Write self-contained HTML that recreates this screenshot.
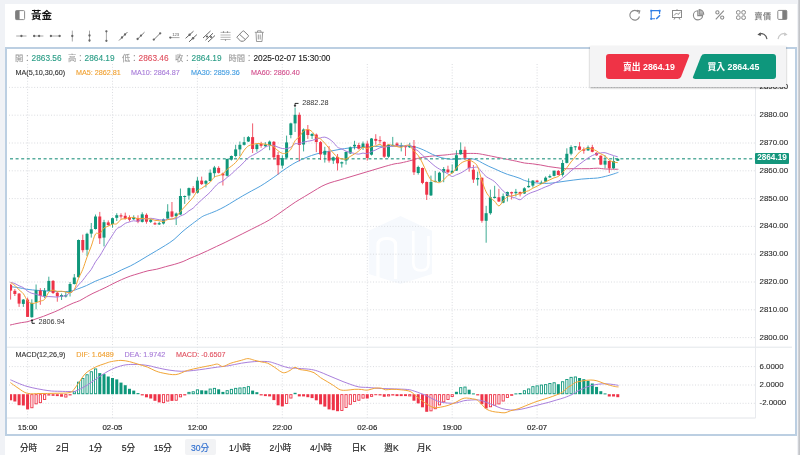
<!DOCTYPE html>
<html lang="zh-Hant">
<head>
<meta charset="utf-8">
<title>黃金</title>
<style>
html,body{margin:0;padding:0;}
body{width:800px;height:455px;overflow:hidden;position:relative;background:#f0f2f6;font-family:"Liberation Sans","Noto Sans CJK TC",sans-serif;color:#333;}
.panel{position:absolute;left:5px;top:4px;width:792px;height:451px;background:#fff;}
.edge{position:absolute;left:798px;top:0;width:2px;height:455px;background:linear-gradient(to right,#d6d8dc,#bcbec2);}
.title{position:absolute;left:31px;top:8.3px;font-size:10.6px;font-weight:bold;color:#111;line-height:14px;font-family:"Liberation Sans","Noto Sans CJK TC",sans-serif;}
.price-type{position:absolute;left:754.3px;top:9.8px;font-size:8.4px;line-height:12px;color:#6a6a6a;}
.chartbox{position:absolute;left:5px;top:47px;width:788px;height:385px;border:2px solid #bccfe2;}
svg.main{position:absolute;left:0;top:0;}
.g{stroke:#d6d8dd;stroke-width:0.9;stroke-dasharray:1,1.8;}
.info{position:absolute;font-size:8.3px;line-height:10px;white-space:nowrap;-webkit-text-stroke:0.12px currentColor;}
.sm{font-size:7.2px;}
.lbl{color:#999;}
.up{color:#2a9d86;}
.dn{color:#e0505f;}
.yl{position:absolute;left:759.5px;font-size:7.9px;line-height:10px;color:#2a2a2a;-webkit-text-stroke:0.1px #2a2a2a;}
.xl{position:absolute;top:423px;width:40px;text-align:center;font-size:7.8px;line-height:10px;color:#222;-webkit-text-stroke:0.15px #222;}
.mk{position:absolute;font-size:7.3px;line-height:10px;color:#333;}
.popup{position:absolute;left:590px;top:46px;width:196px;height:41px;background:#f4f4f5;box-shadow:0 1px 2px rgba(0,0,0,0.35);}
.btn{position:absolute;top:54px;height:25px;color:#fff;font-size:8.8px;font-weight:bold;line-height:27px;white-space:nowrap;}
.sell{left:606px;width:84px;}
.buy{left:692px;width:84px;}
.btn svg{position:absolute;left:0;top:0;}
.btn span{position:relative;}
.cur{position:absolute;left:755px;top:153px;width:34px;height:10.6px;background:#14967c;color:#fff;font-size:8.2px;font-weight:bold;line-height:10.6px;text-align:center;border-radius:1px;}
.tabsel{position:absolute;left:184.5px;top:438.5px;width:31.5px;height:16.5px;background:#f2f3f5;border-radius:2px;}
.tab{position:absolute;top:442.5px;font-size:8.6px;line-height:11px;color:#222;-webkit-text-stroke:0.15px currentColor;white-space:nowrap;font-family:"Liberation Sans","Noto Sans CJK TC",sans-serif;}
.tab.sel{color:#2f6fd0;}
</style>
</head>
<body>
<div class="panel"></div>
<div class="edge"></div>
<div class="chartbox"></div>
<svg class="main" width="800" height="455" viewBox="0 0 800 455">
<g><polygon points="400.5,215.9 432,230.7 432,274 400.5,284 368.8,274 368.8,230.7" fill="#f6f9fd"/><path d="M378,279 L378,245 Q378,238.5 386.8,238.5 Q395.6,238.5 395.6,245 L395.6,279" fill="none" stroke="#fff" stroke-width="3.2"/><path d="M413.3,231 L413.3,263 Q413.3,270.5 421,270.5 Q428.5,270.5 428.5,263 L428.5,236" fill="none" stroke="#fff" stroke-width="2.6"/></g>
<line x1="9" y1="87.4" x2="755" y2="87.4" class="g"/>
<line x1="9" y1="115.2" x2="755" y2="115.2" class="g"/>
<line x1="9" y1="143.0" x2="755" y2="143.0" class="g"/>
<line x1="9" y1="170.8" x2="755" y2="170.8" class="g"/>
<line x1="9" y1="198.6" x2="755" y2="198.6" class="g"/>
<line x1="9" y1="226.4" x2="755" y2="226.4" class="g"/>
<line x1="9" y1="254.2" x2="755" y2="254.2" class="g"/>
<line x1="9" y1="282.0" x2="755" y2="282.0" class="g"/>
<line x1="9" y1="309.8" x2="755" y2="309.8" class="g"/>
<line x1="9" y1="337.6" x2="755" y2="337.6" class="g"/>
<line x1="9" y1="366.6" x2="755" y2="366.6" class="g"/>
<line x1="9" y1="385.0" x2="755" y2="385.0" class="g"/>
<line x1="9" y1="403.3" x2="755" y2="403.3" class="g"/>
<line x1="27.6" y1="64" x2="27.6" y2="346" class="g"/>
<line x1="27.6" y1="347" x2="27.6" y2="418" class="g"/>
<line x1="112.5" y1="64" x2="112.5" y2="346" class="g"/>
<line x1="112.5" y1="347" x2="112.5" y2="418" class="g"/>
<line x1="197.4" y1="64" x2="197.4" y2="346" class="g"/>
<line x1="197.4" y1="347" x2="197.4" y2="418" class="g"/>
<line x1="282.3" y1="64" x2="282.3" y2="346" class="g"/>
<line x1="282.3" y1="347" x2="282.3" y2="418" class="g"/>
<line x1="367.3" y1="64" x2="367.3" y2="346" class="g"/>
<line x1="367.3" y1="347" x2="367.3" y2="418" class="g"/>
<line x1="452.2" y1="64" x2="452.2" y2="346" class="g"/>
<line x1="452.2" y1="347" x2="452.2" y2="418" class="g"/>
<line x1="537.1" y1="64" x2="537.1" y2="346" class="g"/>
<line x1="537.1" y1="347" x2="537.1" y2="418" class="g"/>
<line x1="7" y1="347.2" x2="792" y2="347.2" stroke="#e3e6ea" stroke-width="1"/>
<line x1="7" y1="418" x2="755.5" y2="418" stroke="#e2e4e8" stroke-width="1"/>
<line x1="755.5" y1="48" x2="755.5" y2="418" stroke="#e8eaee" stroke-width="1"/>
<defs><clipPath id="pc"><rect x="10.1" y="48" width="745" height="370"/></clipPath></defs><g clip-path="url(#pc)">
<path d="M9.90,325.10 C10.92,324.87 14.07,324.12 16.00,323.70 C17.93,323.28 19.67,322.92 21.50,322.60 C23.33,322.28 25.17,322.22 27.00,321.80 C28.83,321.38 30.67,320.70 32.50,320.10 C34.33,319.50 36.17,318.83 38.00,318.20 C39.83,317.57 41.67,316.98 43.50,316.30 C45.33,315.62 47.17,314.83 49.00,314.10 C50.83,313.37 52.67,312.68 54.50,311.90 C56.33,311.12 57.98,310.37 60.00,309.40 C62.02,308.43 64.40,307.15 66.60,306.10 C68.80,305.05 71.00,304.02 73.20,303.10 C75.40,302.18 77.60,301.65 79.80,300.60 C82.00,299.55 84.20,298.02 86.40,296.80 C88.60,295.58 90.80,294.38 93.00,293.30 C95.20,292.22 97.40,291.32 99.60,290.30 C101.80,289.28 104.00,288.28 106.20,287.20 C108.40,286.12 110.23,285.07 112.80,283.80 C115.37,282.53 118.68,280.88 121.60,279.60 C124.52,278.32 127.38,277.13 130.30,276.10 C133.22,275.07 136.17,274.28 139.10,273.40 C142.03,272.52 144.97,271.50 147.90,270.80 C150.83,270.10 153.77,269.88 156.70,269.20 C159.63,268.52 162.57,267.50 165.50,266.70 C168.43,265.90 171.37,265.27 174.30,264.40 C177.23,263.53 180.48,262.52 183.10,261.50 C185.72,260.48 187.38,259.43 190.00,258.30 C192.62,257.17 195.87,255.97 198.80,254.70 C201.73,253.43 204.67,252.07 207.60,250.70 C210.53,249.33 213.47,247.88 216.40,246.50 C219.33,245.12 222.27,243.82 225.20,242.40 C228.13,240.98 231.07,239.47 234.00,238.00 C236.93,236.53 239.87,235.07 242.80,233.60 C245.73,232.13 248.68,230.67 251.60,229.20 C254.52,227.73 257.38,226.32 260.30,224.80 C263.22,223.28 266.17,221.85 269.10,220.10 C272.03,218.35 274.97,216.30 277.90,214.30 C280.83,212.30 283.77,210.15 286.70,208.10 C289.63,206.05 292.57,203.90 295.50,202.00 C298.43,200.10 301.37,198.47 304.30,196.70 C307.23,194.93 310.17,193.15 313.10,191.40 C316.03,189.65 319.08,187.63 321.90,186.20 C324.72,184.77 327.15,183.80 330.00,182.80 C332.85,181.80 335.67,181.18 339.00,180.20 C342.33,179.22 346.33,178.00 350.00,176.90 C353.67,175.80 357.33,174.70 361.00,173.60 C364.67,172.50 368.33,171.40 372.00,170.30 C375.67,169.20 379.33,168.05 383.00,167.00 C386.67,165.95 391.00,164.68 394.00,164.00 C397.00,163.32 398.00,163.53 401.00,162.90 C404.00,162.27 408.83,161.05 412.00,160.20 C415.17,159.35 416.58,158.50 420.00,157.80 C423.42,157.10 428.33,156.47 432.50,156.00 C436.67,155.53 441.45,155.33 445.00,155.00 C448.55,154.67 450.67,154.25 453.80,154.00 C456.93,153.75 460.05,153.58 463.80,153.50 C467.55,153.42 473.18,153.35 476.30,153.50 C479.42,153.65 480.42,154.05 482.50,154.40 C484.58,154.75 486.72,155.18 488.80,155.60 C490.88,156.02 491.88,156.27 495.00,156.90 C498.12,157.53 503.95,158.68 507.50,159.40 C511.05,160.12 513.48,160.60 516.30,161.20 C519.12,161.80 521.70,162.57 524.40,163.00 C527.10,163.43 529.78,163.47 532.50,163.80 C535.22,164.13 537.98,164.53 540.70,165.00 C543.42,165.47 546.10,166.15 548.80,166.60 C551.50,167.05 554.20,167.35 556.90,167.70 C559.60,168.05 562.28,168.53 565.00,168.70 C567.72,168.87 570.48,168.70 573.20,168.70 C575.92,168.70 578.60,168.70 581.30,168.70 C584.00,168.70 586.68,168.78 589.40,168.70 C592.12,168.62 594.88,168.15 597.60,168.20 C600.32,168.25 602.23,168.82 605.70,169.00 C609.17,169.18 616.28,169.25 618.40,169.30" fill="none" stroke="#d2578f" stroke-width="1"/>
<path d="M10.50,286.70 C11.78,286.85 15.45,287.17 18.20,287.60 C20.95,288.03 23.70,288.83 27.00,289.30 C30.30,289.77 34.33,290.10 38.00,290.40 C41.67,290.70 45.33,290.92 49.00,291.10 C52.67,291.28 56.40,291.48 60.00,291.50 C63.60,291.52 67.67,291.62 70.60,291.20 C73.53,290.78 74.97,289.93 77.60,289.00 C80.23,288.07 83.47,286.88 86.40,285.60 C89.33,284.32 92.27,282.60 95.20,281.30 C98.13,280.00 101.07,278.97 104.00,277.80 C106.93,276.63 109.87,275.62 112.80,274.30 C115.73,272.98 118.68,271.28 121.60,269.90 C124.52,268.52 127.38,267.47 130.30,266.00 C133.22,264.53 136.17,262.80 139.10,261.10 C142.03,259.40 144.97,257.55 147.90,255.80 C150.83,254.05 153.77,252.35 156.70,250.60 C159.63,248.85 162.62,247.15 165.50,245.30 C168.38,243.45 171.25,241.72 174.00,239.50 C176.75,237.28 179.33,234.32 182.00,232.00 C184.67,229.68 187.20,227.77 190.00,225.60 C192.80,223.43 196.60,220.58 198.80,219.00 C201.00,217.42 201.73,216.88 203.20,216.10 C204.67,215.32 205.40,215.18 207.60,214.30 C209.80,213.42 213.47,212.12 216.40,210.80 C219.33,209.48 222.27,208.02 225.20,206.40 C228.13,204.78 231.07,202.87 234.00,201.10 C236.93,199.33 239.87,197.50 242.80,195.80 C245.73,194.10 248.68,192.50 251.60,190.90 C254.52,189.30 257.38,187.93 260.30,186.20 C263.22,184.47 266.32,182.37 269.10,180.50 C271.88,178.63 274.52,176.78 277.00,175.00 C279.48,173.22 281.00,171.83 284.00,169.80 C287.00,167.77 291.33,164.83 295.00,162.80 C298.67,160.77 302.33,159.10 306.00,157.60 C309.67,156.10 313.33,154.80 317.00,153.80 C320.67,152.80 324.33,152.32 328.00,151.60 C331.67,150.88 335.33,150.12 339.00,149.50 C342.67,148.88 346.33,148.27 350.00,147.90 C353.67,147.53 357.33,147.52 361.00,147.30 C364.67,147.08 368.33,146.78 372.00,146.60 C375.67,146.42 378.17,146.32 383.00,146.20 C387.83,146.08 396.17,145.87 401.00,145.90 C405.83,145.93 408.83,145.97 412.00,146.40 C415.17,146.83 417.62,147.68 420.00,148.50 C422.38,149.32 424.22,150.32 426.30,151.30 C428.38,152.28 430.42,153.47 432.50,154.40 C434.58,155.33 436.72,156.22 438.80,156.90 C440.88,157.58 442.92,158.10 445.00,158.50 C447.08,158.90 449.22,159.17 451.30,159.30 C453.38,159.43 455.42,159.42 457.50,159.30 C459.58,159.18 461.72,158.72 463.80,158.60 C465.88,158.48 467.92,158.40 470.00,158.60 C472.08,158.80 474.22,159.05 476.30,159.80 C478.38,160.55 480.42,162.02 482.50,163.10 C484.58,164.18 486.72,165.32 488.80,166.30 C490.88,167.28 492.92,168.07 495.00,169.00 C497.08,169.93 499.22,171.00 501.30,171.90 C503.38,172.80 505.42,173.67 507.50,174.40 C509.58,175.13 511.72,175.63 513.80,176.30 C515.88,176.97 518.23,177.72 520.00,178.40 C521.77,179.08 522.32,179.73 524.40,180.40 C526.48,181.07 529.78,181.92 532.50,182.40 C535.22,182.88 537.98,183.15 540.70,183.30 C543.42,183.45 546.10,183.45 548.80,183.30 C551.50,183.15 554.20,182.75 556.90,182.40 C559.60,182.05 562.28,181.58 565.00,181.20 C567.72,180.82 570.48,180.45 573.20,180.10 C575.92,179.75 578.60,179.37 581.30,179.10 C584.00,178.83 586.68,178.68 589.40,178.50 C592.12,178.32 594.88,178.37 597.60,178.00 C600.32,177.63 603.00,176.98 605.70,176.30 C608.40,175.62 611.68,174.57 613.80,173.90 C615.92,173.23 617.63,172.57 618.40,172.30" fill="none" stroke="#52a2de" stroke-width="1"/>
<line x1="10" y1="158.8" x2="755" y2="158.8" stroke="#5aae9f" stroke-width="1.4" stroke-dasharray="3,2.6"/>
<rect x="10.10" y="283.90" width="1" height="15.70" fill="#ee3348" fill-opacity="0.8"/>
<rect x="9.10" y="284.80" width="3" height="5.80" fill="#ee3348"/>
<rect x="14.35" y="289.00" width="1" height="7.00" fill="#ee3348" fill-opacity="0.8"/>
<rect x="13.35" y="290.80" width="3" height="3.20" fill="#ee3348"/>
<rect x="18.59" y="293.00" width="1" height="13.90" fill="#ee3348" fill-opacity="0.8"/>
<rect x="17.59" y="293.60" width="3" height="10.00" fill="#ee3348"/>
<rect x="22.84" y="299.00" width="1" height="7.90" fill="#0f977b" fill-opacity="0.8"/>
<rect x="21.84" y="299.60" width="3" height="4.30" fill="#0f977b"/>
<rect x="27.08" y="297.60" width="1" height="19.40" fill="#ee3348" fill-opacity="0.8"/>
<rect x="26.08" y="299.60" width="3" height="17.30" fill="#ee3348"/>
<rect x="31.33" y="299.30" width="1" height="18.50" fill="#0f977b" fill-opacity="0.8"/>
<rect x="30.33" y="302.90" width="3" height="14.30" fill="#0f977b"/>
<rect x="35.58" y="284.50" width="1" height="24.80" fill="#0f977b" fill-opacity="0.8"/>
<rect x="34.58" y="290.30" width="3" height="11.70" fill="#0f977b"/>
<rect x="39.82" y="288.10" width="1" height="16.70" fill="#ee3348" fill-opacity="0.8"/>
<rect x="38.82" y="290.60" width="3" height="5.40" fill="#ee3348"/>
<rect x="44.07" y="288.00" width="1" height="10.00" fill="#0f977b" fill-opacity="0.8"/>
<rect x="43.07" y="290.80" width="3" height="5.20" fill="#0f977b"/>
<rect x="48.31" y="276.70" width="1" height="14.30" fill="#0f977b" fill-opacity="0.8"/>
<rect x="47.31" y="280.90" width="3" height="9.90" fill="#0f977b"/>
<rect x="52.56" y="280.00" width="1" height="14.00" fill="#ee3348" fill-opacity="0.8"/>
<rect x="51.56" y="280.90" width="3" height="12.10" fill="#ee3348"/>
<rect x="56.81" y="292.00" width="1" height="9.70" fill="#ee3348" fill-opacity="0.8"/>
<rect x="55.81" y="292.70" width="3" height="3.70" fill="#ee3348"/>
<rect x="61.05" y="293.50" width="1" height="6.50" fill="#0f977b" fill-opacity="0.8"/>
<rect x="60.05" y="295.00" width="3" height="1.80" fill="#0f977b"/>
<rect x="65.30" y="291.70" width="1" height="5.80" fill="#0f977b" fill-opacity="0.8"/>
<rect x="64.30" y="295.00" width="3" height="1.50" fill="#0f977b"/>
<rect x="69.54" y="282.00" width="1" height="14.50" fill="#0f977b" fill-opacity="0.8"/>
<rect x="68.54" y="284.00" width="3" height="9.00" fill="#0f977b"/>
<rect x="73.79" y="274.00" width="1" height="10.50" fill="#0f977b" fill-opacity="0.8"/>
<rect x="72.79" y="277.50" width="3" height="6.50" fill="#0f977b"/>
<rect x="78.04" y="239.50" width="1" height="38.00" fill="#0f977b" fill-opacity="0.8"/>
<rect x="77.04" y="240.00" width="3" height="37.20" fill="#0f977b"/>
<rect x="82.28" y="234.60" width="1" height="17.90" fill="#ee3348" fill-opacity="0.8"/>
<rect x="81.28" y="240.00" width="3" height="10.20" fill="#ee3348"/>
<rect x="86.53" y="232.70" width="1" height="23.30" fill="#0f977b" fill-opacity="0.8"/>
<rect x="85.53" y="233.80" width="3" height="16.00" fill="#0f977b"/>
<rect x="90.77" y="223.00" width="1" height="14.60" fill="#0f977b" fill-opacity="0.8"/>
<rect x="89.77" y="229.30" width="3" height="4.30" fill="#0f977b"/>
<rect x="95.02" y="214.50" width="1" height="15.00" fill="#0f977b" fill-opacity="0.8"/>
<rect x="94.02" y="216.50" width="3" height="12.50" fill="#0f977b"/>
<rect x="99.27" y="211.90" width="1" height="32.10" fill="#ee3348" fill-opacity="0.8"/>
<rect x="98.27" y="216.50" width="3" height="21.80" fill="#ee3348"/>
<rect x="103.51" y="219.80" width="1" height="26.60" fill="#0f977b" fill-opacity="0.8"/>
<rect x="102.51" y="222.20" width="3" height="15.40" fill="#0f977b"/>
<rect x="107.76" y="220.40" width="1" height="5.60" fill="#ee3348" fill-opacity="0.8"/>
<rect x="106.76" y="222.40" width="3" height="2.60" fill="#ee3348"/>
<rect x="112.00" y="217.50" width="1" height="10.20" fill="#0f977b" fill-opacity="0.8"/>
<rect x="111.00" y="218.20" width="3" height="5.80" fill="#0f977b"/>
<rect x="116.25" y="213.20" width="1" height="7.80" fill="#0f977b" fill-opacity="0.8"/>
<rect x="115.25" y="215.20" width="3" height="2.60" fill="#0f977b"/>
<rect x="120.50" y="213.30" width="1" height="5.40" fill="#ee3348" fill-opacity="0.8"/>
<rect x="119.50" y="215.30" width="3" height="1.20" fill="#ee3348"/>
<rect x="124.74" y="212.60" width="1" height="6.90" fill="#ee3348" fill-opacity="0.8"/>
<rect x="123.74" y="215.80" width="3" height="2.90" fill="#ee3348"/>
<rect x="128.99" y="215.30" width="1" height="6.20" fill="#ee3348" fill-opacity="0.8"/>
<rect x="127.99" y="217.20" width="3" height="2.50" fill="#ee3348"/>
<rect x="133.23" y="215.30" width="1" height="4.70" fill="#0f977b" fill-opacity="0.8"/>
<rect x="132.23" y="217.20" width="3" height="2.00" fill="#0f977b"/>
<rect x="137.48" y="215.30" width="1" height="7.90" fill="#ee3348" fill-opacity="0.8"/>
<rect x="136.48" y="218.00" width="3" height="3.70" fill="#ee3348"/>
<rect x="141.73" y="212.30" width="1" height="10.20" fill="#0f977b" fill-opacity="0.8"/>
<rect x="140.73" y="214.30" width="3" height="7.60" fill="#0f977b"/>
<rect x="145.97" y="213.30" width="1" height="10.40" fill="#ee3348" fill-opacity="0.8"/>
<rect x="144.97" y="214.80" width="3" height="6.90" fill="#ee3348"/>
<rect x="150.22" y="219.00" width="1" height="4.00" fill="#0f977b" fill-opacity="0.8"/>
<rect x="149.22" y="219.70" width="3" height="2.20" fill="#0f977b"/>
<rect x="154.46" y="221.70" width="1" height="3.30" fill="#ee3348" fill-opacity="0.8"/>
<rect x="153.46" y="223.20" width="3" height="1.20" fill="#ee3348"/>
<rect x="158.71" y="221.70" width="1" height="3.30" fill="#0f977b" fill-opacity="0.8"/>
<rect x="157.71" y="223.20" width="3" height="1.20" fill="#0f977b"/>
<rect x="162.96" y="218.50" width="1" height="6.00" fill="#0f977b" fill-opacity="0.8"/>
<rect x="161.96" y="219.20" width="3" height="4.30" fill="#0f977b"/>
<rect x="167.20" y="204.20" width="1" height="14.80" fill="#0f977b" fill-opacity="0.8"/>
<rect x="166.20" y="211.60" width="3" height="6.90" fill="#0f977b"/>
<rect x="171.45" y="202.00" width="1" height="15.50" fill="#ee3348" fill-opacity="0.8"/>
<rect x="170.45" y="211.40" width="3" height="5.30" fill="#ee3348"/>
<rect x="175.69" y="212.50" width="1" height="12.50" fill="#0f977b" fill-opacity="0.8"/>
<rect x="174.69" y="213.50" width="3" height="2.70" fill="#0f977b"/>
<rect x="179.94" y="188.50" width="1" height="26.50" fill="#0f977b" fill-opacity="0.8"/>
<rect x="178.94" y="196.00" width="3" height="18.50" fill="#0f977b"/>
<rect x="184.19" y="195.50" width="1" height="8.40" fill="#0f977b" fill-opacity="0.8"/>
<rect x="183.19" y="196.00" width="3" height="1.00" fill="#0f977b"/>
<rect x="188.43" y="187.50" width="1" height="12.10" fill="#0f977b" fill-opacity="0.8"/>
<rect x="187.43" y="188.10" width="3" height="7.50" fill="#0f977b"/>
<rect x="192.68" y="186.10" width="1" height="7.40" fill="#ee3348" fill-opacity="0.8"/>
<rect x="191.68" y="188.10" width="3" height="4.60" fill="#ee3348"/>
<rect x="196.92" y="177.10" width="1" height="16.40" fill="#0f977b" fill-opacity="0.8"/>
<rect x="195.92" y="180.60" width="3" height="12.10" fill="#0f977b"/>
<rect x="201.17" y="176.60" width="1" height="8.40" fill="#ee3348" fill-opacity="0.8"/>
<rect x="200.17" y="180.60" width="3" height="3.50" fill="#ee3348"/>
<rect x="205.42" y="180.00" width="1" height="7.40" fill="#0f977b" fill-opacity="0.8"/>
<rect x="204.42" y="180.90" width="3" height="2.80" fill="#0f977b"/>
<rect x="209.66" y="169.40" width="1" height="12.10" fill="#0f977b" fill-opacity="0.8"/>
<rect x="208.66" y="172.70" width="3" height="8.30" fill="#0f977b"/>
<rect x="213.91" y="165.90" width="1" height="11.20" fill="#0f977b" fill-opacity="0.8"/>
<rect x="212.91" y="167.50" width="3" height="5.70" fill="#0f977b"/>
<rect x="218.15" y="166.20" width="1" height="7.30" fill="#ee3348" fill-opacity="0.8"/>
<rect x="217.15" y="167.90" width="3" height="4.90" fill="#ee3348"/>
<rect x="222.40" y="172.50" width="1" height="13.00" fill="#ee3348" fill-opacity="0.8"/>
<rect x="221.40" y="173.50" width="3" height="1.90" fill="#ee3348"/>
<rect x="226.65" y="158.50" width="1" height="18.00" fill="#0f977b" fill-opacity="0.8"/>
<rect x="225.65" y="159.00" width="3" height="16.80" fill="#0f977b"/>
<rect x="230.89" y="155.50" width="1" height="5.10" fill="#0f977b" fill-opacity="0.8"/>
<rect x="229.89" y="156.00" width="3" height="3.60" fill="#0f977b"/>
<rect x="235.14" y="144.80" width="1" height="12.50" fill="#0f977b" fill-opacity="0.8"/>
<rect x="234.14" y="149.40" width="3" height="6.60" fill="#0f977b"/>
<rect x="239.38" y="141.50" width="1" height="14.50" fill="#0f977b" fill-opacity="0.8"/>
<rect x="238.38" y="144.80" width="3" height="4.60" fill="#0f977b"/>
<rect x="243.63" y="136.90" width="1" height="8.60" fill="#0f977b" fill-opacity="0.8"/>
<rect x="242.63" y="142.20" width="3" height="2.60" fill="#0f977b"/>
<rect x="247.88" y="136.00" width="1" height="6.00" fill="#0f977b" fill-opacity="0.8"/>
<rect x="246.88" y="137.10" width="3" height="4.40" fill="#0f977b"/>
<rect x="252.12" y="123.40" width="1" height="29.60" fill="#ee3348" fill-opacity="0.8"/>
<rect x="251.12" y="137.10" width="3" height="11.90" fill="#ee3348"/>
<rect x="256.37" y="143.50" width="1" height="8.20" fill="#0f977b" fill-opacity="0.8"/>
<rect x="255.37" y="144.50" width="3" height="4.60" fill="#0f977b"/>
<rect x="260.61" y="141.80" width="1" height="6.00" fill="#ee3348" fill-opacity="0.8"/>
<rect x="259.61" y="143.80" width="3" height="2.00" fill="#ee3348"/>
<rect x="264.86" y="142.20" width="1" height="4.80" fill="#0f977b" fill-opacity="0.8"/>
<rect x="263.86" y="144.50" width="3" height="1.70" fill="#0f977b"/>
<rect x="269.11" y="140.50" width="1" height="9.70" fill="#0f977b" fill-opacity="0.8"/>
<rect x="268.11" y="141.60" width="3" height="3.40" fill="#0f977b"/>
<rect x="273.35" y="141.00" width="1" height="18.50" fill="#ee3348" fill-opacity="0.8"/>
<rect x="272.35" y="141.80" width="3" height="15.50" fill="#ee3348"/>
<rect x="277.60" y="152.00" width="1" height="22.50" fill="#ee3348" fill-opacity="0.8"/>
<rect x="276.60" y="155.00" width="3" height="10.20" fill="#ee3348"/>
<rect x="281.84" y="155.30" width="1" height="13.20" fill="#0f977b" fill-opacity="0.8"/>
<rect x="280.84" y="158.00" width="3" height="7.60" fill="#0f977b"/>
<rect x="286.09" y="135.60" width="1" height="22.60" fill="#0f977b" fill-opacity="0.8"/>
<rect x="285.09" y="142.40" width="3" height="15.30" fill="#0f977b"/>
<rect x="290.34" y="122.70" width="1" height="15.60" fill="#0f977b" fill-opacity="0.8"/>
<rect x="289.34" y="123.40" width="3" height="11.60" fill="#0f977b"/>
<rect x="294.58" y="107.60" width="1" height="24.40" fill="#0f977b" fill-opacity="0.8"/>
<rect x="293.58" y="114.80" width="3" height="8.60" fill="#0f977b"/>
<rect x="298.83" y="112.50" width="1" height="48.80" fill="#ee3348" fill-opacity="0.8"/>
<rect x="297.83" y="114.80" width="3" height="30.20" fill="#ee3348"/>
<rect x="303.07" y="128.40" width="1" height="23.00" fill="#0f977b" fill-opacity="0.8"/>
<rect x="302.07" y="129.50" width="3" height="15.00" fill="#0f977b"/>
<rect x="307.32" y="125.00" width="1" height="13.90" fill="#ee3348" fill-opacity="0.8"/>
<rect x="306.32" y="129.50" width="3" height="5.50" fill="#ee3348"/>
<rect x="311.57" y="133.00" width="1" height="5.90" fill="#0f977b" fill-opacity="0.8"/>
<rect x="310.57" y="134.00" width="3" height="1.90" fill="#0f977b"/>
<rect x="315.81" y="133.50" width="1" height="18.60" fill="#ee3348" fill-opacity="0.8"/>
<rect x="314.81" y="134.60" width="3" height="7.40" fill="#ee3348"/>
<rect x="320.06" y="141.00" width="1" height="19.00" fill="#ee3348" fill-opacity="0.8"/>
<rect x="319.06" y="142.10" width="3" height="12.30" fill="#ee3348"/>
<rect x="324.30" y="146.80" width="1" height="15.80" fill="#0f977b" fill-opacity="0.8"/>
<rect x="323.30" y="150.80" width="3" height="3.90" fill="#0f977b"/>
<rect x="328.55" y="146.10" width="1" height="16.50" fill="#ee3348" fill-opacity="0.8"/>
<rect x="327.55" y="151.80" width="3" height="8.80" fill="#ee3348"/>
<rect x="332.80" y="156.50" width="1" height="7.40" fill="#0f977b" fill-opacity="0.8"/>
<rect x="331.80" y="157.30" width="3" height="3.30" fill="#0f977b"/>
<rect x="337.04" y="154.00" width="1" height="16.50" fill="#ee3348" fill-opacity="0.8"/>
<rect x="336.04" y="156.90" width="3" height="6.40" fill="#ee3348"/>
<rect x="341.29" y="161.50" width="1" height="6.00" fill="#0f977b" fill-opacity="0.8"/>
<rect x="340.29" y="162.20" width="3" height="1.30" fill="#0f977b"/>
<rect x="345.53" y="151.50" width="1" height="13.10" fill="#0f977b" fill-opacity="0.8"/>
<rect x="344.53" y="152.00" width="3" height="8.60" fill="#0f977b"/>
<rect x="349.78" y="146.50" width="1" height="7.50" fill="#0f977b" fill-opacity="0.8"/>
<rect x="348.78" y="147.40" width="3" height="6.00" fill="#0f977b"/>
<rect x="354.03" y="140.80" width="1" height="8.60" fill="#0f977b" fill-opacity="0.8"/>
<rect x="353.03" y="144.80" width="3" height="1.60" fill="#0f977b"/>
<rect x="358.27" y="142.80" width="1" height="6.70" fill="#ee3348" fill-opacity="0.8"/>
<rect x="357.27" y="145.00" width="3" height="3.70" fill="#ee3348"/>
<rect x="362.52" y="141.50" width="1" height="8.50" fill="#0f977b" fill-opacity="0.8"/>
<rect x="361.52" y="143.50" width="3" height="4.00" fill="#0f977b"/>
<rect x="366.76" y="140.80" width="1" height="19.80" fill="#ee3348" fill-opacity="0.8"/>
<rect x="365.76" y="143.60" width="3" height="14.40" fill="#ee3348"/>
<rect x="371.01" y="138.00" width="1" height="17.50" fill="#0f977b" fill-opacity="0.8"/>
<rect x="370.01" y="138.50" width="3" height="16.20" fill="#0f977b"/>
<rect x="375.26" y="134.20" width="1" height="10.60" fill="#ee3348" fill-opacity="0.8"/>
<rect x="374.26" y="138.90" width="3" height="1.90" fill="#ee3348"/>
<rect x="379.50" y="136.20" width="1" height="7.30" fill="#ee3348" fill-opacity="0.8"/>
<rect x="378.50" y="140.20" width="3" height="1.00" fill="#ee3348"/>
<rect x="383.75" y="141.50" width="1" height="16.30" fill="#ee3348" fill-opacity="0.8"/>
<rect x="382.75" y="141.90" width="3" height="14.80" fill="#ee3348"/>
<rect x="387.99" y="144.30" width="1" height="13.50" fill="#0f977b" fill-opacity="0.8"/>
<rect x="386.99" y="144.80" width="3" height="11.90" fill="#0f977b"/>
<rect x="392.24" y="136.90" width="1" height="9.60" fill="#0f977b" fill-opacity="0.8"/>
<rect x="391.24" y="144.80" width="3" height="1.00" fill="#0f977b"/>
<rect x="396.49" y="142.20" width="1" height="3.80" fill="#ee3348" fill-opacity="0.8"/>
<rect x="395.49" y="143.50" width="3" height="1.90" fill="#ee3348"/>
<rect x="400.73" y="142.80" width="1" height="8.60" fill="#0f977b" fill-opacity="0.8"/>
<rect x="399.73" y="145.40" width="3" height="1.40" fill="#0f977b"/>
<rect x="404.98" y="145.50" width="1" height="10.50" fill="#ee3348" fill-opacity="0.8"/>
<rect x="403.98" y="146.10" width="3" height="1.10" fill="#ee3348"/>
<rect x="409.22" y="142.80" width="1" height="5.20" fill="#0f977b" fill-opacity="0.8"/>
<rect x="408.22" y="145.80" width="3" height="1.50" fill="#0f977b"/>
<rect x="413.47" y="140.00" width="1" height="35.00" fill="#ee3348" fill-opacity="0.8"/>
<rect x="412.47" y="145.90" width="3" height="26.40" fill="#ee3348"/>
<rect x="417.72" y="165.70" width="1" height="8.90" fill="#0f977b" fill-opacity="0.8"/>
<rect x="416.72" y="167.00" width="3" height="6.00" fill="#0f977b"/>
<rect x="421.96" y="167.50" width="1" height="16.70" fill="#ee3348" fill-opacity="0.8"/>
<rect x="420.96" y="168.00" width="3" height="14.90" fill="#ee3348"/>
<rect x="426.21" y="181.50" width="1" height="18.50" fill="#ee3348" fill-opacity="0.8"/>
<rect x="425.21" y="182.00" width="3" height="12.70" fill="#ee3348"/>
<rect x="430.45" y="175.60" width="1" height="20.40" fill="#0f977b" fill-opacity="0.8"/>
<rect x="429.45" y="182.00" width="3" height="13.40" fill="#0f977b"/>
<rect x="434.70" y="171.00" width="1" height="11.50" fill="#0f977b" fill-opacity="0.8"/>
<rect x="433.70" y="180.90" width="3" height="1.10" fill="#0f977b"/>
<rect x="438.95" y="171.70" width="1" height="10.30" fill="#0f977b" fill-opacity="0.8"/>
<rect x="437.95" y="172.70" width="3" height="8.90" fill="#0f977b"/>
<rect x="443.19" y="167.00" width="1" height="15.20" fill="#0f977b" fill-opacity="0.8"/>
<rect x="442.19" y="169.00" width="3" height="3.30" fill="#0f977b"/>
<rect x="447.44" y="165.70" width="1" height="7.30" fill="#ee3348" fill-opacity="0.8"/>
<rect x="446.44" y="169.50" width="3" height="2.80" fill="#ee3348"/>
<rect x="451.68" y="164.40" width="1" height="9.10" fill="#0f977b" fill-opacity="0.8"/>
<rect x="450.68" y="170.80" width="3" height="2.00" fill="#0f977b"/>
<rect x="455.93" y="150.30" width="1" height="20.70" fill="#0f977b" fill-opacity="0.8"/>
<rect x="454.93" y="155.20" width="3" height="15.40" fill="#0f977b"/>
<rect x="460.18" y="142.40" width="1" height="12.40" fill="#0f977b" fill-opacity="0.8"/>
<rect x="459.18" y="149.90" width="3" height="4.30" fill="#0f977b"/>
<rect x="464.42" y="146.60" width="1" height="13.20" fill="#ee3348" fill-opacity="0.8"/>
<rect x="463.42" y="149.90" width="3" height="7.90" fill="#ee3348"/>
<rect x="468.67" y="158.50" width="1" height="13.20" fill="#ee3348" fill-opacity="0.8"/>
<rect x="467.67" y="159.10" width="3" height="8.90" fill="#ee3348"/>
<rect x="472.91" y="165.00" width="1" height="17.90" fill="#ee3348" fill-opacity="0.8"/>
<rect x="471.91" y="169.70" width="3" height="9.90" fill="#ee3348"/>
<rect x="477.16" y="171.70" width="1" height="13.90" fill="#0f977b" fill-opacity="0.8"/>
<rect x="476.16" y="178.00" width="3" height="1.50" fill="#0f977b"/>
<rect x="481.41" y="177.30" width="1" height="45.40" fill="#ee3348" fill-opacity="0.8"/>
<rect x="480.41" y="177.80" width="3" height="43.00" fill="#ee3348"/>
<rect x="485.65" y="205.80" width="1" height="36.90" fill="#0f977b" fill-opacity="0.8"/>
<rect x="484.65" y="213.20" width="3" height="7.60" fill="#0f977b"/>
<rect x="489.90" y="189.60" width="1" height="25.10" fill="#0f977b" fill-opacity="0.8"/>
<rect x="488.90" y="197.30" width="3" height="15.90" fill="#0f977b"/>
<rect x="494.14" y="185.80" width="1" height="12.70" fill="#0f977b" fill-opacity="0.8"/>
<rect x="493.14" y="196.80" width="3" height="1.20" fill="#0f977b"/>
<rect x="498.39" y="188.80" width="1" height="13.20" fill="#ee3348" fill-opacity="0.8"/>
<rect x="497.39" y="197.30" width="3" height="4.20" fill="#ee3348"/>
<rect x="502.64" y="193.50" width="1" height="9.70" fill="#0f977b" fill-opacity="0.8"/>
<rect x="501.64" y="196.20" width="3" height="6.50" fill="#0f977b"/>
<rect x="506.88" y="191.50" width="1" height="10.00" fill="#0f977b" fill-opacity="0.8"/>
<rect x="505.88" y="192.00" width="3" height="4.00" fill="#0f977b"/>
<rect x="511.13" y="191.60" width="1" height="7.90" fill="#ee3348" fill-opacity="0.8"/>
<rect x="510.13" y="192.10" width="3" height="1.30" fill="#ee3348"/>
<rect x="515.37" y="188.90" width="1" height="7.60" fill="#0f977b" fill-opacity="0.8"/>
<rect x="514.37" y="191.80" width="3" height="1.40" fill="#0f977b"/>
<rect x="519.62" y="191.50" width="1" height="4.90" fill="#ee3348" fill-opacity="0.8"/>
<rect x="518.62" y="192.00" width="3" height="2.20" fill="#ee3348"/>
<rect x="523.87" y="187.20" width="1" height="6.80" fill="#0f977b" fill-opacity="0.8"/>
<rect x="522.87" y="188.30" width="3" height="5.20" fill="#0f977b"/>
<rect x="528.11" y="178.40" width="1" height="9.30" fill="#0f977b" fill-opacity="0.8"/>
<rect x="527.11" y="185.90" width="3" height="1.30" fill="#0f977b"/>
<rect x="532.36" y="180.00" width="1" height="7.60" fill="#0f977b" fill-opacity="0.8"/>
<rect x="531.36" y="180.60" width="3" height="5.00" fill="#0f977b"/>
<rect x="536.60" y="180.00" width="1" height="2.50" fill="#ee3348" fill-opacity="0.8"/>
<rect x="535.60" y="180.60" width="3" height="1.30" fill="#ee3348"/>
<rect x="540.85" y="180.60" width="1" height="3.40" fill="#0f977b" fill-opacity="0.8"/>
<rect x="539.85" y="182.70" width="3" height="1.00" fill="#0f977b"/>
<rect x="545.10" y="176.40" width="1" height="5.80" fill="#0f977b" fill-opacity="0.8"/>
<rect x="544.10" y="177.70" width="3" height="4.00" fill="#0f977b"/>
<rect x="549.34" y="174.40" width="1" height="3.50" fill="#0f977b" fill-opacity="0.8"/>
<rect x="548.34" y="176.10" width="3" height="1.30" fill="#0f977b"/>
<rect x="553.59" y="170.30" width="1" height="6.10" fill="#0f977b" fill-opacity="0.8"/>
<rect x="552.59" y="170.80" width="3" height="5.10" fill="#0f977b"/>
<rect x="557.83" y="170.00" width="1" height="5.50" fill="#ee3348" fill-opacity="0.8"/>
<rect x="556.83" y="170.90" width="3" height="4.10" fill="#ee3348"/>
<rect x="562.08" y="159.90" width="1" height="16.70" fill="#0f977b" fill-opacity="0.8"/>
<rect x="561.08" y="163.00" width="3" height="11.80" fill="#0f977b"/>
<rect x="566.33" y="148.30" width="1" height="15.10" fill="#0f977b" fill-opacity="0.8"/>
<rect x="565.33" y="153.80" width="3" height="9.10" fill="#0f977b"/>
<rect x="570.57" y="145.30" width="1" height="10.00" fill="#0f977b" fill-opacity="0.8"/>
<rect x="569.57" y="147.00" width="3" height="6.70" fill="#0f977b"/>
<rect x="574.82" y="146.00" width="1" height="4.30" fill="#0f977b" fill-opacity="0.8"/>
<rect x="573.82" y="146.30" width="3" height="1.00" fill="#0f977b"/>
<rect x="579.06" y="142.10" width="1" height="8.20" fill="#ee3348" fill-opacity="0.8"/>
<rect x="578.06" y="146.50" width="3" height="3.30" fill="#ee3348"/>
<rect x="583.31" y="147.30" width="1" height="6.40" fill="#ee3348" fill-opacity="0.8"/>
<rect x="582.31" y="149.20" width="3" height="1.50" fill="#ee3348"/>
<rect x="587.56" y="145.50" width="1" height="5.40" fill="#0f977b" fill-opacity="0.8"/>
<rect x="586.56" y="147.20" width="3" height="3.20" fill="#0f977b"/>
<rect x="591.80" y="144.80" width="1" height="7.50" fill="#ee3348" fill-opacity="0.8"/>
<rect x="590.80" y="147.20" width="3" height="4.60" fill="#ee3348"/>
<rect x="596.05" y="152.30" width="1" height="3.50" fill="#ee3348" fill-opacity="0.8"/>
<rect x="595.05" y="152.80" width="3" height="2.50" fill="#ee3348"/>
<rect x="600.29" y="155.30" width="1" height="9.80" fill="#ee3348" fill-opacity="0.8"/>
<rect x="599.29" y="155.70" width="3" height="8.90" fill="#ee3348"/>
<rect x="604.54" y="155.30" width="1" height="13.00" fill="#0f977b" fill-opacity="0.8"/>
<rect x="603.54" y="160.60" width="3" height="4.00" fill="#0f977b"/>
<rect x="608.79" y="160.50" width="1" height="12.40" fill="#ee3348" fill-opacity="0.8"/>
<rect x="607.79" y="161.00" width="3" height="7.30" fill="#ee3348"/>
<rect x="613.03" y="156.40" width="1" height="12.40" fill="#0f977b" fill-opacity="0.8"/>
<rect x="612.03" y="161.00" width="3" height="7.30" fill="#0f977b"/>
<rect x="617.28" y="158.50" width="1" height="2.50" fill="#0f977b" fill-opacity="0.8"/>
<rect x="616.28" y="158.80" width="3" height="1.90" fill="#0f977b"/>
<path d="M10.60,282.32 C11.31,282.53 13.43,283.00 14.85,283.58 C16.26,284.16 17.68,285.13 19.09,285.80 C20.51,286.47 21.92,286.73 23.34,287.62 C24.75,288.51 26.17,290.22 27.58,291.17 C29.00,292.12 30.41,292.81 31.83,293.32 C33.25,293.83 34.66,293.82 36.08,294.21 C37.49,294.60 38.91,295.27 40.32,295.67 C41.74,296.07 43.15,296.46 44.57,296.61 C45.98,296.76 47.40,296.53 48.81,296.56 C50.23,296.59 51.64,296.72 53.06,296.80 C54.48,296.88 55.89,297.14 57.31,297.04 C58.72,296.94 60.14,296.40 61.55,296.18 C62.97,295.96 64.38,296.34 65.80,295.72 C67.21,295.09 68.63,293.40 70.04,292.43 C71.46,291.46 72.87,291.15 74.29,289.89 C75.71,288.63 77.12,286.46 78.54,284.86 C79.95,283.26 81.37,281.99 82.78,280.28 C84.20,278.57 85.61,276.39 87.03,274.58 C88.44,272.77 89.86,271.55 91.27,269.42 C92.69,267.28 94.10,264.01 95.52,261.77 C96.94,259.53 98.35,258.14 99.77,255.96 C101.18,253.78 102.60,251.06 104.01,248.68 C105.43,246.30 106.84,243.94 108.26,241.68 C109.67,239.42 111.09,237.24 112.50,235.10 C113.92,232.96 115.33,230.30 116.75,228.87 C118.17,227.44 119.58,227.44 121.00,226.52 C122.41,225.60 123.83,224.13 125.24,223.37 C126.66,222.61 128.07,222.40 129.49,221.96 C130.90,221.52 132.32,220.87 133.73,220.75 C135.15,220.63 136.56,221.58 137.98,221.27 C139.40,220.96 140.81,219.28 142.23,218.87 C143.64,218.46 145.06,218.92 146.47,218.82 C147.89,218.72 149.30,218.28 150.72,218.29 C152.13,218.31 153.55,218.67 154.96,218.91 C156.38,219.15 157.79,219.53 159.21,219.71 C160.63,219.89 162.04,220.05 163.46,219.98 C164.87,219.91 166.29,219.44 167.70,219.27 C169.12,219.10 170.53,219.08 171.95,218.97 C173.36,218.86 174.78,219.09 176.19,218.60 C177.61,218.11 179.02,216.76 180.44,216.03 C181.86,215.30 183.27,215.06 184.69,214.20 C186.10,213.33 187.52,211.85 188.93,210.84 C190.35,209.83 191.76,209.32 193.18,208.14 C194.59,206.96 196.01,205.14 197.42,203.76 C198.84,202.38 200.25,201.14 201.67,199.85 C203.09,198.56 204.50,197.31 205.92,196.02 C207.33,194.73 208.75,193.60 210.16,192.13 C211.58,190.66 212.99,188.71 214.41,187.21 C215.82,185.71 217.24,184.16 218.65,183.14 C220.07,182.12 221.48,182.04 222.90,181.08 C224.32,180.12 225.73,178.53 227.15,177.38 C228.56,176.23 229.98,175.43 231.39,174.17 C232.81,172.91 234.22,171.16 235.64,169.84 C237.05,168.52 238.47,167.56 239.88,166.26 C241.30,164.96 242.71,163.50 244.13,162.07 C245.55,160.64 246.96,158.81 248.38,157.69 C249.79,156.56 251.21,156.10 252.62,155.32 C254.04,154.54 255.45,153.85 256.87,153.02 C258.28,152.19 259.70,151.28 261.11,150.32 C262.53,149.35 263.94,148.03 265.36,147.23 C266.78,146.42 268.19,145.76 269.61,145.49 C271.02,145.22 272.44,145.34 273.85,145.62 C275.27,145.91 276.68,146.72 278.10,147.20 C279.51,147.68 280.93,148.30 282.34,148.52 C283.76,148.74 285.17,148.77 286.59,148.54 C288.01,148.32 289.42,147.97 290.84,147.17 C292.25,146.37 293.67,144.31 295.08,143.75 C296.50,143.19 297.91,144.06 299.33,143.80 C300.74,143.54 302.16,142.60 303.57,142.17 C304.99,141.74 306.40,141.50 307.82,141.22 C309.24,140.94 310.65,140.84 312.07,140.46 C313.48,140.08 314.90,139.37 316.31,138.93 C317.73,138.50 319.14,138.15 320.56,137.85 C321.97,137.55 323.39,136.95 324.80,137.13 C326.22,137.31 327.63,138.08 329.05,138.95 C330.47,139.82 331.88,140.97 333.30,142.34 C334.71,143.71 336.13,146.09 337.54,147.19 C338.96,148.28 340.37,148.25 341.79,148.91 C343.20,149.57 344.62,150.58 346.03,151.16 C347.45,151.74 348.86,152.01 350.28,152.40 C351.70,152.79 353.11,153.19 354.53,153.48 C355.94,153.77 357.36,154.22 358.77,154.15 C360.19,154.08 361.60,153.12 363.02,153.06 C364.43,153.00 365.85,154.03 367.26,153.78 C368.68,153.53 370.09,152.21 371.51,151.57 C372.93,150.93 374.34,150.57 375.76,149.92 C377.17,149.28 378.59,148.16 380.00,147.70 C381.42,147.24 382.83,147.36 384.25,147.15 C385.66,146.94 387.08,146.59 388.49,146.43 C389.91,146.27 391.32,146.20 392.74,146.17 C394.16,146.14 395.57,146.27 396.99,146.23 C398.40,146.19 399.82,145.89 401.23,145.90 C402.65,145.91 404.06,146.41 405.48,146.27 C406.89,146.13 408.31,144.69 409.72,145.05 C411.14,145.41 412.55,147.43 413.97,148.43 C415.39,149.43 416.80,149.92 418.22,151.05 C419.63,152.18 421.05,153.90 422.46,155.23 C423.88,156.56 425.29,157.78 426.71,159.03 C428.12,160.28 429.54,161.53 430.95,162.75 C432.37,163.97 433.78,165.30 435.20,166.36 C436.62,167.42 438.03,168.24 439.45,169.09 C440.86,169.94 442.28,170.64 443.69,171.45 C445.11,172.26 446.52,173.12 447.94,173.96 C449.35,174.79 450.77,176.33 452.18,176.46 C453.60,176.59 455.01,175.32 456.43,174.75 C457.85,174.18 459.26,173.74 460.68,173.04 C462.09,172.34 463.51,171.39 464.92,170.53 C466.34,169.67 467.75,168.34 469.17,167.86 C470.58,167.38 472.00,167.71 473.41,167.62 C474.83,167.53 476.24,166.58 477.66,167.33 C479.08,168.08 480.49,170.60 481.91,172.14 C483.32,173.68 484.74,175.41 486.15,176.56 C487.57,177.71 488.98,178.21 490.40,179.06 C491.81,179.91 493.23,180.45 494.64,181.66 C496.06,182.87 497.47,184.75 498.89,186.29 C500.31,187.83 501.72,189.58 503.14,190.92 C504.55,192.26 505.97,193.35 507.38,194.34 C508.80,195.33 510.21,196.25 511.63,196.88 C513.04,197.51 514.46,197.63 515.87,198.10 C517.29,198.57 518.70,199.99 520.12,199.72 C521.54,199.45 522.95,197.47 524.37,196.47 C525.78,195.47 527.20,194.47 528.61,193.74 C530.03,193.01 531.44,192.60 532.86,192.07 C534.27,191.54 535.69,191.14 537.10,190.58 C538.52,190.02 539.93,189.32 541.35,188.70 C542.77,188.08 544.18,187.42 545.60,186.85 C547.01,186.28 548.43,185.90 549.84,185.26 C551.26,184.62 552.67,183.66 554.09,183.00 C555.50,182.34 556.92,182.12 558.33,181.32 C559.75,180.52 561.16,179.29 562.58,178.20 C564.00,177.10 565.41,175.97 566.83,174.75 C568.24,173.53 569.66,172.08 571.07,170.86 C572.49,169.64 573.90,168.54 575.32,167.43 C576.73,166.32 578.15,165.29 579.56,164.22 C580.98,163.15 582.39,162.06 583.81,161.02 C585.23,159.98 586.64,158.88 588.06,157.97 C589.47,157.06 590.89,156.20 592.30,155.54 C593.72,154.88 595.13,154.42 596.55,153.99 C597.96,153.56 599.38,153.16 600.79,152.95 C602.21,152.74 603.62,152.51 605.04,152.71 C606.46,152.91 607.87,153.69 609.29,154.16 C610.70,154.63 612.12,155.12 613.53,155.56 C614.95,156.00 617.07,156.60 617.78,156.81" fill="none" stroke="#a97fdc" stroke-width="1"/>
<path d="M10.60,282.68 C11.31,283.12 13.43,284.13 14.85,285.34 C16.26,286.55 17.68,288.53 19.09,289.92 C20.51,291.31 21.92,291.86 23.34,293.70 C24.75,295.54 26.17,299.32 27.58,300.94 C29.00,302.56 30.41,303.11 31.83,303.40 C33.25,303.69 34.66,303.04 36.08,302.66 C37.49,302.28 38.91,301.69 40.32,301.14 C41.74,300.59 43.15,300.87 44.57,299.38 C45.98,297.89 47.40,293.71 48.81,292.18 C50.23,290.65 51.64,290.33 53.06,290.20 C54.48,290.07 55.89,291.25 57.31,291.42 C58.72,291.59 60.14,291.11 61.55,291.22 C62.97,291.33 64.38,291.82 65.80,292.06 C67.21,292.30 68.63,293.09 70.04,292.68 C71.46,292.27 72.87,291.98 74.29,289.58 C75.71,287.18 77.12,281.67 78.54,278.30 C79.95,274.93 81.37,272.87 82.78,269.34 C84.20,265.81 85.61,260.96 87.03,257.10 C88.44,253.24 89.86,250.02 91.27,246.16 C92.69,242.30 94.10,236.05 95.52,233.96 C96.94,231.87 98.35,234.61 99.77,233.62 C101.18,232.63 102.60,229.25 104.01,228.02 C105.43,226.79 106.84,226.92 108.26,226.26 C109.67,225.60 111.09,224.45 112.50,224.04 C113.92,223.63 115.33,224.55 116.75,223.78 C118.17,223.01 119.58,220.26 121.00,219.42 C122.41,218.58 123.83,219.01 125.24,218.72 C126.66,218.43 128.07,217.87 129.49,217.66 C130.90,217.45 132.32,217.28 133.73,217.46 C135.15,217.64 136.56,218.62 137.98,218.76 C139.40,218.90 140.81,218.29 142.23,218.32 C143.64,218.35 145.06,218.82 146.47,218.92 C147.89,219.02 149.30,218.68 150.72,218.92 C152.13,219.16 153.55,220.07 154.96,220.36 C156.38,220.65 157.79,220.45 159.21,220.66 C160.63,220.87 162.04,221.81 163.46,221.64 C164.87,221.47 166.29,220.06 167.70,219.62 C169.12,219.18 170.53,219.48 171.95,219.02 C173.36,218.56 174.78,218.11 176.19,216.84 C177.61,215.57 179.02,213.08 180.44,211.40 C181.86,209.72 183.27,208.32 184.69,206.76 C186.10,205.20 187.52,203.64 188.93,202.06 C190.35,200.48 191.76,199.16 193.18,197.26 C194.59,195.36 196.01,192.17 197.42,190.68 C198.84,189.19 200.25,189.20 201.67,188.30 C203.09,187.40 204.50,186.30 205.92,185.28 C207.33,184.26 208.75,183.55 210.16,182.20 C211.58,180.85 212.99,178.26 214.41,177.16 C215.82,176.06 217.24,176.15 218.65,175.60 C220.07,175.05 221.48,174.88 222.90,173.86 C224.32,172.84 225.73,170.77 227.15,169.48 C228.56,168.19 229.98,167.30 231.39,166.14 C232.81,164.98 234.22,164.06 235.64,162.52 C237.05,160.98 238.47,158.96 239.88,156.92 C241.30,154.88 242.71,152.12 244.13,150.28 C245.55,148.44 246.96,146.86 248.38,145.90 C249.79,144.94 251.21,144.90 252.62,144.50 C254.04,144.10 255.45,143.65 256.87,143.52 C258.28,143.39 259.70,143.61 261.11,143.72 C262.53,143.83 263.94,143.95 265.36,144.18 C266.78,144.41 268.19,144.65 269.61,145.08 C271.02,145.51 272.44,145.77 273.85,146.74 C275.27,147.71 276.68,149.78 278.10,150.88 C279.51,151.98 280.93,152.98 282.34,153.32 C283.76,153.66 285.17,153.58 286.59,152.90 C288.01,152.22 289.42,151.28 290.84,149.26 C292.25,147.24 293.67,142.85 295.08,140.76 C296.50,138.67 297.91,138.34 299.33,136.72 C300.74,135.10 302.16,132.22 303.57,131.02 C304.99,129.82 306.40,129.43 307.82,129.54 C309.24,129.65 310.65,130.40 312.07,131.66 C313.48,132.92 314.90,135.88 316.31,137.10 C317.73,138.32 319.14,137.96 320.56,138.98 C321.97,140.00 323.39,141.68 324.80,143.24 C326.22,144.80 327.63,146.73 329.05,148.36 C330.47,149.99 331.88,151.53 333.30,153.02 C334.71,154.51 336.13,156.31 337.54,157.28 C338.96,158.25 340.37,158.54 341.79,158.84 C343.20,159.14 344.62,159.48 346.03,159.08 C347.45,158.68 348.86,157.30 350.28,156.44 C351.70,155.58 353.11,154.84 354.53,153.94 C355.94,153.04 357.36,152.13 358.77,151.02 C360.19,149.91 361.60,147.70 363.02,147.28 C364.43,146.86 365.85,148.58 367.26,148.48 C368.68,148.38 370.09,147.13 371.51,146.70 C372.93,146.27 374.34,146.29 375.76,145.90 C377.17,145.51 378.59,144.19 380.00,144.38 C381.42,144.57 382.83,147.02 384.25,147.02 C385.66,147.02 387.08,144.61 388.49,144.38 C389.91,144.15 391.32,145.28 392.74,145.64 C394.16,146.00 395.57,146.26 396.99,146.56 C398.40,146.86 399.82,147.59 401.23,147.42 C402.65,147.25 404.06,145.80 405.48,145.52 C406.89,145.24 408.31,144.77 409.72,145.72 C411.14,146.67 412.55,149.58 413.97,151.22 C415.39,152.86 416.80,153.57 418.22,155.54 C419.63,157.51 421.05,160.21 422.46,163.04 C423.88,165.87 425.29,169.75 426.71,172.54 C428.12,175.33 429.54,178.29 430.95,179.78 C432.37,181.27 433.78,181.02 435.20,181.50 C436.62,181.98 438.03,182.91 439.45,182.64 C440.86,182.37 442.28,181.07 443.69,179.86 C445.11,178.65 446.52,176.50 447.94,175.38 C449.35,174.26 450.77,174.37 452.18,173.14 C453.60,171.91 455.01,169.62 456.43,168.00 C457.85,166.38 459.26,164.57 460.68,163.44 C462.09,162.31 463.51,161.72 464.92,161.20 C466.34,160.68 467.75,160.19 469.17,160.34 C470.58,160.49 472.00,161.05 473.41,162.10 C474.83,163.15 476.24,163.54 477.66,166.66 C479.08,169.78 480.49,176.63 481.91,180.84 C483.32,185.05 484.74,189.10 486.15,191.92 C487.57,194.74 488.98,196.23 490.40,197.78 C491.81,199.33 493.23,199.86 494.64,201.22 C496.06,202.58 497.47,205.96 498.89,205.92 C500.31,205.88 501.72,202.53 503.14,201.00 C504.55,199.47 505.97,197.60 507.38,196.76 C508.80,195.92 510.21,196.28 511.63,195.98 C513.04,195.68 514.46,195.39 515.87,194.98 C517.29,194.57 518.70,194.03 520.12,193.52 C521.54,193.01 522.95,192.41 524.37,191.94 C525.78,191.47 527.20,191.35 528.61,190.72 C530.03,190.09 531.44,188.92 532.86,188.16 C534.27,187.40 535.69,186.89 537.10,186.18 C538.52,185.47 539.93,184.62 541.35,183.88 C542.77,183.14 544.18,182.44 545.60,181.76 C547.01,181.08 548.43,180.45 549.84,179.80 C551.26,179.15 552.67,178.40 554.09,177.84 C555.50,177.28 556.92,177.35 558.33,176.46 C559.75,175.57 561.16,173.97 562.58,172.52 C564.00,171.07 565.41,169.51 566.83,167.74 C568.24,165.97 569.66,163.71 571.07,161.92 C572.49,160.13 573.90,158.68 575.32,157.02 C576.73,155.36 578.15,153.23 579.56,151.98 C580.98,150.73 582.39,150.15 583.81,149.52 C585.23,148.89 586.64,148.26 588.06,148.20 C589.47,148.14 590.89,148.70 592.30,149.16 C593.72,149.62 595.13,150.17 596.55,150.96 C597.96,151.75 599.38,153.10 600.79,153.92 C602.21,154.74 603.62,154.87 605.04,155.90 C606.46,156.93 607.87,159.11 609.29,160.12 C610.70,161.13 612.12,161.54 613.53,161.96 C614.95,162.38 617.07,162.54 617.78,162.66" fill="none" stroke="#f2a536" stroke-width="1"/>
<path d="M32,323.3 L34.8,323.3 M32,323.3 L32,319.8" stroke="#222" stroke-width="1" fill="none"/><path d="M30.6,321 L32,319 L33.4,321 Z" fill="#222"/>
<path d="M295,103.4 L298.5,103.4 M295,103.4 L295,106" stroke="#222" stroke-width="1" fill="none"/><path d="M293.6,105.2 L295,107.2 L296.4,105.2 Z" fill="#222"/>
<rect x="9.10" y="394.20" width="3" height="6.10" fill="#ee3348"/>
<rect x="13.35" y="394.20" width="3" height="7.30" fill="#ee3348"/>
<rect x="17.59" y="394.20" width="3" height="11.00" fill="#ee3348"/>
<rect x="21.84" y="394.20" width="3" height="11.30" fill="#ee3348"/>
<rect x="26.08" y="394.20" width="3" height="15.20" fill="#ee3348"/>
<rect x="30.78" y="394.65" width="2.2" height="13.10" fill="#fff" stroke="#ee3348" stroke-width="0.9"/>
<rect x="35.03" y="394.65" width="2.2" height="9.20" fill="#fff" stroke="#ee3348" stroke-width="0.9"/>
<rect x="39.27" y="394.65" width="2.2" height="8.00" fill="#fff" stroke="#ee3348" stroke-width="0.9"/>
<rect x="43.52" y="394.65" width="2.2" height="4.90" fill="#fff" stroke="#ee3348" stroke-width="0.9"/>
<rect x="47.31" y="394.20" width="3" height="1.30" fill="#ee3348"/>
<rect x="51.56" y="394.20" width="3" height="1.60" fill="#ee3348"/>
<rect x="55.81" y="394.20" width="3" height="1.90" fill="#ee3348"/>
<rect x="60.05" y="394.20" width="3" height="2.50" fill="#ee3348"/>
<rect x="64.75" y="394.65" width="2.2" height="2.40" fill="#fff" stroke="#ee3348" stroke-width="0.9"/>
<rect x="68.99" y="394.65" width="2.2" height="0.30" fill="#fff" stroke="#ee3348" stroke-width="0.9"/>
<rect x="73.24" y="391.75" width="2.2" height="2.00" fill="#fff" stroke="#0f977b" stroke-width="0.9"/>
<rect x="77.49" y="382.15" width="2.2" height="11.60" fill="#fff" stroke="#0f977b" stroke-width="0.9"/>
<rect x="81.73" y="378.55" width="2.2" height="15.20" fill="#fff" stroke="#0f977b" stroke-width="0.9"/>
<rect x="85.98" y="374.75" width="2.2" height="19.00" fill="#fff" stroke="#0f977b" stroke-width="0.9"/>
<rect x="90.22" y="371.75" width="2.2" height="22.00" fill="#fff" stroke="#0f977b" stroke-width="0.9"/>
<rect x="94.47" y="368.95" width="2.2" height="24.80" fill="#fff" stroke="#0f977b" stroke-width="0.9"/>
<rect x="98.27" y="373.10" width="3" height="21.10" fill="#0f977b"/>
<rect x="102.51" y="374.10" width="3" height="20.10" fill="#0f977b"/>
<rect x="106.76" y="376.50" width="3" height="17.70" fill="#0f977b"/>
<rect x="111.00" y="378.00" width="3" height="16.20" fill="#0f977b"/>
<rect x="115.25" y="379.40" width="3" height="14.80" fill="#0f977b"/>
<rect x="119.50" y="382.60" width="3" height="11.60" fill="#0f977b"/>
<rect x="123.74" y="385.20" width="3" height="9.00" fill="#0f977b"/>
<rect x="127.99" y="388.80" width="3" height="5.40" fill="#0f977b"/>
<rect x="132.23" y="390.60" width="3" height="3.60" fill="#0f977b"/>
<rect x="136.48" y="393.10" width="3" height="1.10" fill="#0f977b"/>
<rect x="141.18" y="394.65" width="2.2" height="0.30" fill="#fff" stroke="#ee3348" stroke-width="0.9"/>
<rect x="144.97" y="394.20" width="3" height="3.10" fill="#ee3348"/>
<rect x="149.22" y="394.20" width="3" height="4.30" fill="#ee3348"/>
<rect x="153.46" y="394.20" width="3" height="6.60" fill="#ee3348"/>
<rect x="157.71" y="394.20" width="3" height="8.20" fill="#ee3348"/>
<rect x="162.41" y="394.65" width="2.2" height="8.00" fill="#fff" stroke="#ee3348" stroke-width="0.9"/>
<rect x="166.65" y="394.65" width="2.2" height="6.40" fill="#fff" stroke="#ee3348" stroke-width="0.9"/>
<rect x="170.45" y="394.20" width="3" height="6.70" fill="#ee3348"/>
<rect x="175.14" y="394.65" width="2.2" height="5.60" fill="#fff" stroke="#ee3348" stroke-width="0.9"/>
<rect x="179.39" y="394.65" width="2.2" height="2.20" fill="#fff" stroke="#ee3348" stroke-width="0.9"/>
<rect x="183.64" y="394.65" width="2.2" height="0.30" fill="#fff" stroke="#ee3348" stroke-width="0.9"/>
<rect x="187.88" y="392.35" width="2.2" height="1.40" fill="#fff" stroke="#0f977b" stroke-width="0.9"/>
<rect x="192.13" y="391.75" width="2.2" height="2.00" fill="#fff" stroke="#0f977b" stroke-width="0.9"/>
<rect x="196.37" y="389.85" width="2.2" height="3.90" fill="#fff" stroke="#0f977b" stroke-width="0.9"/>
<rect x="200.17" y="390.30" width="3" height="3.90" fill="#0f977b"/>
<rect x="204.42" y="390.60" width="3" height="3.60" fill="#0f977b"/>
<rect x="209.11" y="389.05" width="2.2" height="4.70" fill="#fff" stroke="#0f977b" stroke-width="0.9"/>
<rect x="213.36" y="388.35" width="2.2" height="5.40" fill="#fff" stroke="#0f977b" stroke-width="0.9"/>
<rect x="217.15" y="389.30" width="3" height="4.90" fill="#0f977b"/>
<rect x="221.40" y="391.90" width="3" height="2.30" fill="#0f977b"/>
<rect x="226.10" y="390.65" width="2.2" height="3.10" fill="#fff" stroke="#0f977b" stroke-width="0.9"/>
<rect x="230.34" y="389.35" width="2.2" height="4.40" fill="#fff" stroke="#0f977b" stroke-width="0.9"/>
<rect x="234.59" y="388.35" width="2.2" height="5.40" fill="#fff" stroke="#0f977b" stroke-width="0.9"/>
<rect x="238.83" y="387.95" width="2.2" height="5.80" fill="#fff" stroke="#0f977b" stroke-width="0.9"/>
<rect x="243.08" y="387.65" width="2.2" height="6.10" fill="#fff" stroke="#0f977b" stroke-width="0.9"/>
<rect x="247.33" y="386.65" width="2.2" height="7.10" fill="#fff" stroke="#0f977b" stroke-width="0.9"/>
<rect x="251.12" y="390.60" width="3" height="3.60" fill="#0f977b"/>
<rect x="255.37" y="392.20" width="3" height="2.00" fill="#0f977b"/>
<rect x="260.06" y="394.65" width="2.2" height="0.30" fill="#fff" stroke="#ee3348" stroke-width="0.9"/>
<rect x="263.86" y="394.20" width="3" height="1.90" fill="#ee3348"/>
<rect x="268.11" y="394.20" width="3" height="2.20" fill="#ee3348"/>
<rect x="272.35" y="394.20" width="3" height="5.90" fill="#ee3348"/>
<rect x="276.60" y="394.20" width="3" height="11.10" fill="#ee3348"/>
<rect x="280.84" y="394.20" width="3" height="12.20" fill="#ee3348"/>
<rect x="285.54" y="394.65" width="2.2" height="8.90" fill="#fff" stroke="#ee3348" stroke-width="0.9"/>
<rect x="289.79" y="394.65" width="2.2" height="3.40" fill="#fff" stroke="#ee3348" stroke-width="0.9"/>
<rect x="293.58" y="392.80" width="3" height="1.40" fill="#0f977b"/>
<rect x="297.83" y="394.20" width="3" height="2.20" fill="#ee3348"/>
<rect x="302.07" y="394.20" width="3" height="2.20" fill="#ee3348"/>
<rect x="306.32" y="394.20" width="3" height="3.00" fill="#ee3348"/>
<rect x="310.57" y="394.20" width="3" height="3.90" fill="#ee3348"/>
<rect x="314.81" y="394.20" width="3" height="6.10" fill="#ee3348"/>
<rect x="319.06" y="394.20" width="3" height="10.10" fill="#ee3348"/>
<rect x="323.30" y="394.20" width="3" height="12.40" fill="#ee3348"/>
<rect x="327.55" y="394.20" width="3" height="15.20" fill="#ee3348"/>
<rect x="331.80" y="394.20" width="3" height="16.00" fill="#ee3348"/>
<rect x="336.04" y="394.20" width="3" height="17.00" fill="#ee3348"/>
<rect x="340.74" y="394.65" width="2.2" height="15.90" fill="#fff" stroke="#ee3348" stroke-width="0.9"/>
<rect x="344.98" y="394.65" width="2.2" height="12.90" fill="#fff" stroke="#ee3348" stroke-width="0.9"/>
<rect x="349.23" y="394.65" width="2.2" height="9.60" fill="#fff" stroke="#ee3348" stroke-width="0.9"/>
<rect x="353.48" y="394.65" width="2.2" height="6.90" fill="#fff" stroke="#ee3348" stroke-width="0.9"/>
<rect x="357.72" y="394.65" width="2.2" height="5.60" fill="#fff" stroke="#ee3348" stroke-width="0.9"/>
<rect x="361.97" y="394.65" width="2.2" height="3.50" fill="#fff" stroke="#ee3348" stroke-width="0.9"/>
<rect x="365.76" y="394.20" width="3" height="4.30" fill="#ee3348"/>
<rect x="370.46" y="394.65" width="2.2" height="1.70" fill="#fff" stroke="#ee3348" stroke-width="0.9"/>
<rect x="374.26" y="394.20" width="3" height="1.00" fill="#ee3348"/>
<rect x="378.95" y="394.65" width="2.2" height="0.30" fill="#fff" stroke="#ee3348" stroke-width="0.9"/>
<rect x="382.75" y="394.20" width="3" height="2.60" fill="#ee3348"/>
<rect x="387.44" y="394.65" width="2.2" height="1.30" fill="#fff" stroke="#ee3348" stroke-width="0.9"/>
<rect x="391.69" y="394.65" width="2.2" height="0.40" fill="#fff" stroke="#ee3348" stroke-width="0.9"/>
<rect x="395.49" y="394.20" width="3" height="1.90" fill="#ee3348"/>
<rect x="399.73" y="394.20" width="3" height="1.90" fill="#ee3348"/>
<rect x="403.98" y="394.20" width="3" height="1.90" fill="#ee3348"/>
<rect x="408.67" y="394.65" width="2.2" height="1.30" fill="#fff" stroke="#ee3348" stroke-width="0.9"/>
<rect x="412.47" y="394.20" width="3" height="6.50" fill="#ee3348"/>
<rect x="416.72" y="394.20" width="3" height="9.20" fill="#ee3348"/>
<rect x="420.96" y="394.20" width="3" height="13.10" fill="#ee3348"/>
<rect x="425.21" y="394.20" width="3" height="17.60" fill="#ee3348"/>
<rect x="429.90" y="394.65" width="2.2" height="16.20" fill="#fff" stroke="#ee3348" stroke-width="0.9"/>
<rect x="434.15" y="394.65" width="2.2" height="14.10" fill="#fff" stroke="#ee3348" stroke-width="0.9"/>
<rect x="438.40" y="394.65" width="2.2" height="10.30" fill="#fff" stroke="#ee3348" stroke-width="0.9"/>
<rect x="442.64" y="394.65" width="2.2" height="7.20" fill="#fff" stroke="#ee3348" stroke-width="0.9"/>
<rect x="446.89" y="394.65" width="2.2" height="4.90" fill="#fff" stroke="#ee3348" stroke-width="0.9"/>
<rect x="451.13" y="394.65" width="2.2" height="1.80" fill="#fff" stroke="#ee3348" stroke-width="0.9"/>
<rect x="454.93" y="391.80" width="3" height="2.40" fill="#0f977b"/>
<rect x="459.63" y="387.65" width="2.2" height="6.10" fill="#fff" stroke="#0f977b" stroke-width="0.9"/>
<rect x="463.87" y="387.05" width="2.2" height="6.70" fill="#fff" stroke="#0f977b" stroke-width="0.9"/>
<rect x="467.67" y="389.70" width="3" height="4.50" fill="#0f977b"/>
<rect x="471.91" y="393.40" width="3" height="1.00" fill="#0f977b"/>
<rect x="476.61" y="394.65" width="2.2" height="0.30" fill="#fff" stroke="#ee3348" stroke-width="0.9"/>
<rect x="480.41" y="394.20" width="3" height="10.00" fill="#ee3348"/>
<rect x="484.65" y="394.20" width="3" height="14.30" fill="#ee3348"/>
<rect x="489.35" y="394.65" width="2.2" height="12.10" fill="#fff" stroke="#ee3348" stroke-width="0.9"/>
<rect x="493.59" y="394.65" width="2.2" height="10.60" fill="#fff" stroke="#ee3348" stroke-width="0.9"/>
<rect x="497.84" y="394.65" width="2.2" height="9.30" fill="#fff" stroke="#ee3348" stroke-width="0.9"/>
<rect x="502.09" y="394.65" width="2.2" height="6.40" fill="#fff" stroke="#ee3348" stroke-width="0.9"/>
<rect x="506.33" y="394.65" width="2.2" height="2.90" fill="#fff" stroke="#ee3348" stroke-width="0.9"/>
<rect x="510.58" y="394.65" width="2.2" height="0.70" fill="#fff" stroke="#ee3348" stroke-width="0.9"/>
<rect x="514.37" y="393.40" width="3" height="1.00" fill="#0f977b"/>
<rect x="519.07" y="393.55" width="2.2" height="0.30" fill="#fff" stroke="#0f977b" stroke-width="0.9"/>
<rect x="523.32" y="390.75" width="2.2" height="3.00" fill="#fff" stroke="#0f977b" stroke-width="0.9"/>
<rect x="527.56" y="388.95" width="2.2" height="4.80" fill="#fff" stroke="#0f977b" stroke-width="0.9"/>
<rect x="531.81" y="386.65" width="2.2" height="7.10" fill="#fff" stroke="#0f977b" stroke-width="0.9"/>
<rect x="536.05" y="385.85" width="2.2" height="7.90" fill="#fff" stroke="#0f977b" stroke-width="0.9"/>
<rect x="540.30" y="385.05" width="2.2" height="8.70" fill="#fff" stroke="#0f977b" stroke-width="0.9"/>
<rect x="544.55" y="384.65" width="2.2" height="9.10" fill="#fff" stroke="#0f977b" stroke-width="0.9"/>
<rect x="548.79" y="383.55" width="2.2" height="10.20" fill="#fff" stroke="#0f977b" stroke-width="0.9"/>
<rect x="553.04" y="382.75" width="2.2" height="11.00" fill="#fff" stroke="#0f977b" stroke-width="0.9"/>
<rect x="556.83" y="384.20" width="3" height="10.00" fill="#0f977b"/>
<rect x="561.53" y="381.75" width="2.2" height="12.00" fill="#fff" stroke="#0f977b" stroke-width="0.9"/>
<rect x="565.78" y="379.45" width="2.2" height="14.30" fill="#fff" stroke="#0f977b" stroke-width="0.9"/>
<rect x="570.02" y="377.35" width="2.2" height="16.40" fill="#fff" stroke="#0f977b" stroke-width="0.9"/>
<rect x="574.27" y="376.95" width="2.2" height="16.80" fill="#fff" stroke="#0f977b" stroke-width="0.9"/>
<rect x="578.06" y="378.00" width="3" height="16.20" fill="#0f977b"/>
<rect x="582.31" y="379.20" width="3" height="15.00" fill="#0f977b"/>
<rect x="586.56" y="380.80" width="3" height="13.40" fill="#0f977b"/>
<rect x="590.80" y="383.50" width="3" height="10.70" fill="#0f977b"/>
<rect x="595.05" y="386.90" width="3" height="7.30" fill="#0f977b"/>
<rect x="599.29" y="391.20" width="3" height="3.00" fill="#0f977b"/>
<rect x="603.54" y="393.40" width="3" height="1.00" fill="#0f977b"/>
<rect x="607.79" y="394.20" width="3" height="2.30" fill="#ee3348"/>
<rect x="612.03" y="394.20" width="3" height="2.30" fill="#ee3348"/>
<rect x="616.28" y="394.20" width="3" height="3.00" fill="#ee3348"/>
<path d="M10.40,379.80 C13.17,380.90 20.73,384.60 27.00,386.40 C33.27,388.20 42.50,389.78 48.00,390.60 C53.50,391.42 56.33,391.15 60.00,391.30 C63.67,391.45 67.50,391.50 70.00,391.50 C72.50,391.50 72.15,392.35 75.00,391.30 C77.85,390.25 83.07,387.62 87.10,385.20 C91.13,382.78 95.17,379.42 99.20,376.80 C103.23,374.18 107.28,371.42 111.30,369.50 C115.32,367.58 119.68,366.15 123.30,365.30 C126.92,364.45 129.97,364.50 133.00,364.40 C136.03,364.30 138.68,364.45 141.50,364.70 C144.32,364.95 147.30,365.40 149.90,365.90 C152.50,366.40 153.88,367.00 157.10,367.70 C160.32,368.40 165.17,369.50 169.20,370.10 C173.23,370.70 177.28,371.23 181.30,371.30 C185.32,371.37 189.28,370.90 193.30,370.50 C197.32,370.10 201.37,369.47 205.40,368.90 C209.43,368.33 213.70,367.62 217.50,367.10 C221.30,366.58 224.22,366.45 228.20,365.80 C232.18,365.15 237.02,363.90 241.40,363.20 C245.78,362.50 250.12,361.87 254.50,361.60 C258.88,361.33 264.40,361.33 267.70,361.60 C271.00,361.87 272.10,362.55 274.30,363.20 C276.50,363.85 278.48,364.73 280.90,365.50 C283.32,366.27 285.92,367.32 288.80,367.80 C291.68,368.28 294.43,368.12 298.20,368.40 C301.97,368.68 307.88,368.95 311.40,369.50 C314.92,370.05 316.67,370.78 319.30,371.70 C321.93,372.62 324.57,373.90 327.20,375.00 C329.83,376.10 332.47,377.20 335.10,378.30 C337.73,379.40 340.37,380.57 343.00,381.60 C345.63,382.63 348.27,383.62 350.90,384.50 C353.53,385.38 355.92,386.40 358.80,386.90 C361.68,387.40 364.43,387.23 368.20,387.50 C371.97,387.77 377.02,388.27 381.40,388.50 C385.78,388.73 390.12,388.73 394.50,388.90 C398.88,389.07 404.40,389.13 407.70,389.50 C411.00,389.87 412.10,390.43 414.30,391.10 C416.50,391.77 419.12,392.85 420.90,393.50 C422.68,394.15 423.48,394.33 425.00,395.00 C426.52,395.67 428.33,396.67 430.00,397.50 C431.67,398.33 433.27,399.25 435.00,400.00 C436.73,400.75 438.22,401.48 440.40,402.00 C442.58,402.52 445.53,402.92 448.10,403.10 C450.67,403.28 453.23,403.48 455.80,403.10 C458.37,402.72 460.93,401.32 463.50,400.80 C466.07,400.28 468.65,400.13 471.20,400.00 C473.75,399.87 476.25,399.62 478.80,400.00 C481.35,400.38 483.93,401.40 486.50,402.30 C489.07,403.20 491.63,404.37 494.20,405.40 C496.77,406.43 499.20,407.73 501.90,408.50 C504.60,409.27 507.70,409.80 510.40,410.00 C513.10,410.20 515.53,410.00 518.10,409.70 C520.67,409.40 523.23,408.78 525.80,408.20 C528.37,407.62 530.93,406.87 533.50,406.20 C536.07,405.53 538.65,404.85 541.20,404.20 C543.75,403.55 546.25,403.00 548.80,402.30 C551.35,401.60 553.93,400.77 556.50,400.00 C559.07,399.23 561.63,398.60 564.20,397.70 C566.77,396.80 570.03,395.50 571.90,394.60 C573.77,393.70 573.53,393.32 575.40,392.30 C577.27,391.28 580.53,389.60 583.10,388.50 C585.67,387.40 588.23,386.42 590.80,385.70 C593.37,384.98 595.93,384.52 598.50,384.20 C601.07,383.88 603.65,383.73 606.20,383.80 C608.75,383.87 611.75,384.33 613.80,384.60 C615.85,384.87 617.72,385.27 618.50,385.40" fill="none" stroke="#a97fdc" stroke-width="1"/>
<path d="M10.40,382.60 C11.67,383.50 15.17,386.20 18.00,388.00 C20.83,389.80 23.73,392.48 27.40,393.40 C31.07,394.32 35.40,393.52 40.00,393.50 C44.60,393.48 50.00,393.47 55.00,393.30 C60.00,393.13 66.67,393.38 70.00,392.50 C73.33,391.62 73.33,389.92 75.00,388.00 C76.67,386.08 78.18,383.48 80.00,381.00 C81.82,378.52 83.32,375.42 85.90,373.10 C88.48,370.78 92.28,368.70 95.50,367.10 C98.72,365.50 102.57,364.42 105.20,363.50 C107.83,362.58 108.68,362.12 111.30,361.60 C113.92,361.08 117.88,360.40 120.90,360.40 C123.92,360.40 126.58,360.98 129.40,361.60 C132.22,362.22 134.78,363.18 137.80,364.10 C140.82,365.02 144.63,366.00 147.50,367.10 C150.37,368.20 152.40,369.70 155.00,370.70 C157.60,371.70 159.63,372.45 163.10,373.10 C166.57,373.75 171.77,375.03 175.80,374.60 C179.83,374.17 183.37,371.65 187.30,370.50 C191.23,369.35 195.37,368.57 199.40,367.70 C203.43,366.83 208.48,365.90 211.50,365.30 C214.52,364.70 215.60,363.90 217.50,364.10 C219.40,364.30 220.68,366.65 222.90,366.50 C225.12,366.35 227.72,364.23 230.80,363.20 C233.88,362.17 238.55,361.07 241.40,360.30 C244.25,359.53 245.72,358.60 247.90,358.60 C250.08,358.60 252.30,359.75 254.50,360.30 C256.70,360.85 258.90,361.42 261.10,361.90 C263.30,362.38 265.50,362.33 267.70,363.20 C269.90,364.07 272.10,365.68 274.30,367.10 C276.50,368.52 279.15,370.77 280.90,371.70 C282.65,372.63 283.27,372.92 284.80,372.70 C286.33,372.48 288.42,371.28 290.10,370.40 C291.78,369.52 293.33,367.55 294.90,367.40 C296.47,367.25 297.63,369.00 299.50,369.50 C301.37,370.00 303.68,369.87 306.10,370.40 C308.52,370.93 311.58,371.48 314.00,372.70 C316.42,373.92 318.40,376.22 320.60,377.70 C322.80,379.18 325.02,380.28 327.20,381.60 C329.38,382.92 331.52,384.23 333.70,385.60 C335.88,386.97 338.10,389.03 340.30,389.80 C342.50,390.57 344.48,390.28 346.90,390.20 C349.32,390.12 352.35,389.42 354.80,389.30 C357.25,389.18 359.48,389.35 361.60,389.50 C363.72,389.65 365.30,390.42 367.50,390.20 C369.70,389.98 372.48,388.53 374.80,388.20 C377.12,387.87 379.65,387.93 381.40,388.20 C383.15,388.47 383.55,389.62 385.30,389.80 C387.05,389.98 389.27,389.30 391.90,389.30 C394.53,389.30 398.03,389.43 401.10,389.80 C404.17,390.17 407.67,390.33 410.30,391.50 C412.93,392.67 414.48,394.93 416.90,396.80 C419.32,398.67 422.60,401.17 424.80,402.70 C427.00,404.23 428.53,405.17 430.10,406.00 C431.67,406.83 432.48,407.50 434.20,407.70 C435.92,407.90 438.08,407.58 440.40,407.20 C442.72,406.82 445.53,406.22 448.10,405.40 C450.67,404.58 453.50,403.38 455.80,402.30 C458.10,401.22 460.12,399.62 461.90,398.90 C463.68,398.18 464.70,398.00 466.50,398.00 C468.30,398.00 470.90,398.57 472.70,398.90 C474.50,399.23 475.77,399.05 477.30,400.00 C478.83,400.95 480.37,403.07 481.90,404.60 C483.43,406.13 484.70,408.05 486.50,409.20 C488.30,410.35 490.65,410.98 492.70,411.50 C494.75,412.02 496.75,412.08 498.80,412.30 C500.85,412.52 503.07,413.05 505.00,412.80 C506.93,412.55 508.22,411.47 510.40,410.80 C512.58,410.13 515.53,409.65 518.10,408.80 C520.67,407.95 523.23,406.73 525.80,405.70 C528.37,404.67 530.93,403.55 533.50,402.60 C536.07,401.65 538.65,400.82 541.20,400.00 C543.75,399.18 546.25,398.55 548.80,397.70 C551.35,396.85 554.30,395.77 556.50,394.90 C558.70,394.03 560.13,393.73 562.00,392.50 C563.87,391.27 566.05,388.75 567.70,387.50 C569.35,386.25 570.62,385.83 571.90,385.00 C573.18,384.17 573.53,383.20 575.40,382.50 C577.27,381.80 580.53,381.22 583.10,380.80 C585.67,380.38 588.50,380.00 590.80,380.00 C593.10,380.00 594.85,380.28 596.90,380.80 C598.95,381.32 601.05,382.38 603.10,383.10 C605.15,383.82 607.15,384.52 609.20,385.10 C611.25,385.68 613.85,386.30 615.40,386.60 C616.95,386.90 617.98,386.85 618.50,386.90" fill="none" stroke="#f2a536" stroke-width="1"/>
</g>
<line x1="16.2" y1="36" x2="26.5" y2="36" stroke="#a8a8a8"/><circle cx="21.4" cy="36" r="1.15" fill="#666"/>
<line x1="33" y1="36" x2="43.4" y2="36" stroke="#a8a8a8"/><circle cx="34.2" cy="36" r="1.15" fill="#666"/><circle cx="39.1" cy="36" r="1.15" fill="#666"/>
<line x1="50.3" y1="36" x2="60.6" y2="36" stroke="#a8a8a8"/><circle cx="50.9" cy="36" r="1.15" fill="#666"/><circle cx="59.6" cy="36" r="1.15" fill="#666"/>
<line x1="72.3" y1="30.6" x2="72.3" y2="41.5" stroke="#a8a8a8"/><circle cx="72.3" cy="36" r="1.15" fill="#666"/>
<line x1="89.5" y1="30.6" x2="89.5" y2="41.5" stroke="#a8a8a8"/><circle cx="89.5" cy="35.5" r="1.15" fill="#666"/><circle cx="89.5" cy="40.5" r="1.15" fill="#666"/>
<line x1="106.4" y1="30.6" x2="106.4" y2="41.5" stroke="#a8a8a8"/><circle cx="106.4" cy="31.3" r="1.15" fill="#666"/><circle cx="106.4" cy="40.8" r="1.15" fill="#666"/>
<line x1="119" y1="40.5" x2="127.5" y2="32" stroke="#666" stroke-width="0.85"/><circle cx="122" cy="37.5" r="1.15" fill="#666"/><circle cx="125" cy="34.5" r="1.15" fill="#666"/>
<line x1="137" y1="39.6" x2="144.5" y2="32.2" stroke="#666" stroke-width="0.85"/><circle cx="137.6" cy="39" r="1.15" fill="#666"/><circle cx="141" cy="35.6" r="1.15" fill="#666"/>
<line x1="153.5" y1="40" x2="160.5" y2="33" stroke="#666" stroke-width="0.85"/><circle cx="153.8" cy="39.6" r="1.15" fill="#666"/><circle cx="160.2" cy="33.3" r="1.15" fill="#666"/>
<line x1="170" y1="37.6" x2="179.5" y2="37.6" stroke="#a8a8a8"/><circle cx="170.3" cy="37.6" r="1.15" fill="#666"/><text x="172.2" y="35.6" font-size="4.2" fill="#555" font-family="Liberation Sans">123</text>
<line x1="185.6" y1="38.3" x2="193.5" y2="31.2" stroke="#666"/><line x1="189" y1="41.9" x2="196.9" y2="34.6" stroke="#666"/><circle cx="189.6" cy="34.8" r="1.2" fill="#666"/><circle cx="193" cy="38.3" r="1.2" fill="#666"/>
<line x1="203" y1="38" x2="210.5" y2="31" stroke="#666"/><line x1="205.5" y1="40.2" x2="213" y2="33.2" stroke="#666"/><line x1="208" y1="42" x2="215" y2="35.5" stroke="#666"/><circle cx="207" cy="36.5" r="1.1" fill="#666"/><circle cx="211" cy="37" r="1.1" fill="#666"/>
<g stroke="#999" stroke-width="0.7"><line x1="220.5" y1="32.4" x2="230.6" y2="32.4"/><line x1="220.5" y1="35" x2="230.6" y2="35"/><line x1="220.5" y1="37.3" x2="230.6" y2="37.3"/><line x1="220.5" y1="39.5" x2="230.6" y2="39.5"/></g><path d="M222.8,31.6 L224.2,31.6 L223.5,33 Z M226.8,31.6 L228.2,31.6 L227.5,33 Z M224.8,40.6 L226.2,40.6 L225.5,39.2 Z" fill="#555"/>

<g fill="none" stroke="#707070" stroke-width="0.9" stroke-linejoin="round"><path d="M236.8,37.2 L242.6,31.2 Q243.3,30.5 244,31.2 L248.2,35.2 Q248.9,35.9 248.2,36.6 L243.6,41.2 L240.6,41.2 Z"/><path d="M239.6,34.4 L245.4,39.6"/></g>
<g fill="none" stroke="#8a8a8a" stroke-width="0.85"><path d="M254.8,32.3 L263.8,32.3 M257.5,32.3 L257.5,30.8 L261,30.8 L261,32.3 M256,32.3 L256.5,41.5 L262,41.5 L262.6,32.3 M258.3,34.5 L258.3,39.5 M260.2,34.5 L260.2,39.5"/></g>
<path d="M638.6,12.2 A4.9,4.9 0 1,0 639.5,16.5" fill="none" stroke="#8a8a8a" stroke-width="1.1"/><path d="M636.8,10.2 L639.8,11 L638.8,13.8" fill="none" stroke="#8a8a8a" stroke-width="1.1"/>
<path d="M651.2,10.6 L659.6,10.6 L659.6,14 M651.2,10.6 L651.2,18.8 L655,18.8" fill="none" stroke="#2f7ee6" stroke-width="1.1"/><path d="M656.2,19 L660,15.2" stroke="#2f7ee6" stroke-width="1.5"/><rect x="650.3" y="9.8" width="1.8" height="1.8" fill="#2f7ee6"/><rect x="658.8" y="9.8" width="1.8" height="1.8" fill="#2f7ee6"/><rect x="650.3" y="18" width="1.8" height="1.8" fill="#2f7ee6"/>
<g fill="none" stroke="#8a8a8a" stroke-width="1"><rect x="672.5" y="10.5" width="9" height="7" /><path d="M674,19.6 L675.3,17.5 M680,19.6 L678.7,17.5 M674,15.5 L676.5,13 L678,14.5 L680.5,12.2"/></g><line x1="677" y1="9.2" x2="677" y2="10.5" stroke="#8a8a8a"/>
<g fill="none" stroke="#8a8a8a" stroke-width="1.1"><path d="M697.8,10.7 A4.6,4.6 0 1,0 702.6,15.6 L697.8,15.6 Z"/><path d="M699.2,9.6 A4.6,4.6 0 0,1 703.7,14.2 L699.2,14.2 Z" fill="#bbb"/></g>
<g fill="none" stroke="#8a8a8a" stroke-width="1.1"><circle cx="717.4" cy="12.4" r="1.6"/><circle cx="722.2" cy="17.6" r="1.6"/><line x1="715.8" y1="19.3" x2="723.8" y2="10.7"/></g>
<g fill="none" stroke="#8a8a8a" stroke-width="1"><rect x="736.5" y="10.6" width="3.6" height="3.6" rx="1.4"/><rect x="741.8" y="10.6" width="3.6" height="3.6" rx="1.4"/><rect x="736.5" y="15.8" width="3.6" height="3.6" rx="1.4"/><rect x="741.8" y="15.8" width="3.6" height="3.6" rx="1.4"/></g>
<rect x="777.8" y="10.4" width="9" height="9" rx="1" fill="#fff" stroke="#8a8a8a" stroke-width="1"/><rect x="782.3" y="10.4" width="4.5" height="9" fill="#7d7d7d"/>
<path d="M758.8,34.4 C762.5,32.6 766,34.2 767,39.2" fill="none" stroke="#555" stroke-width="1.1"/><path d="M757.4,34.8 L760.6,32.2 L760.9,36 Z" fill="#555"/>
<path d="M786.2,34.4 C782.5,32.6 779,34.2 778,39.2" fill="none" stroke="#c8c8c8" stroke-width="1.1"/><path d="M787.6,34.8 L784.4,32.2 L784.1,36 Z" fill="#c8c8c8"/>
<rect x="15.6" y="10.6" width="9" height="9" rx="1" fill="#fff" stroke="#8a8a8a" stroke-width="1"/><rect x="15.6" y="10.6" width="4" height="9" fill="#7d7d7d"/>
</svg>
<div class="title">黃金</div>
<div class="price-type">賣價</div>

<div class="info" style="left:15px;top:52.5px"><span class="lbl">開：</span><span class="up">2863.56</span></div>
<div class="info" style="left:68px;top:52.5px"><span class="lbl">高：</span><span class="up">2864.19</span></div>
<div class="info" style="left:122px;top:52.5px"><span class="lbl">低：</span><span class="dn">2863.46</span></div>
<div class="info" style="left:175px;top:52.5px"><span class="lbl">收：</span><span class="up">2864.19</span></div>
<div class="info" style="left:228.5px;top:52.5px"><span class="lbl">時間：</span><span style="color:#222">2025-02-07 15:30:00</span></div>

<div class="info sm" style="left:15.5px;top:67.5px;color:#333">MA(5,10,30,60)</div>
<div class="info sm" style="left:76px;top:67.5px;color:#f0a030">MA5: 2862.81</div>
<div class="info sm" style="left:131px;top:67.5px;color:#a77bd8">MA10: 2864.87</div>
<div class="info sm" style="left:191px;top:67.5px;color:#3f9be0">MA30: 2859.36</div>
<div class="info sm" style="left:251px;top:67.5px;color:#d24d8c">MA60: 2860.40</div>

<div class="info sm" style="left:15.5px;top:349.5px;color:#333">MACD(12,26,9)</div>
<div class="info sm" style="left:76.2px;top:349.5px;color:#f0a030">DIF: 1.6489</div>
<div class="info sm" style="left:124.5px;top:349.5px;color:#a77bd8">DEA: 1.9742</div>
<div class="info sm" style="left:176px;top:349.5px;color:#e0505f">MACD: -0.6507</div>

<div class="mk" style="left:38.4px;top:317px">2806.94</div>
<div class="mk" style="left:302.2px;top:97.8px">2882.28</div>

<div class="yl" style="top:110.2px">2880.00</div><div class="yl" style="top:138.0px">2870.00</div><div class="yl" style="top:165.8px">2860.00</div><div class="yl" style="top:193.6px">2850.00</div><div class="yl" style="top:221.4px">2840.00</div><div class="yl" style="top:249.2px">2830.00</div><div class="yl" style="top:277.0px">2820.00</div><div class="yl" style="top:304.8px">2810.00</div><div class="yl" style="top:332.6px">2800.00</div><div class="yl" style="top:81.9px">2890.00</div><div class="yl" style="top:361.6px;left:759.5px">6.0000</div><div class="yl" style="top:380.0px;left:759.5px">2.0000</div><div class="yl" style="top:398.3px;left:759.5px">-2.0000</div>
<div class="xl" style="left:7.6px">15:00</div><div class="xl" style="left:92.5px">02-05</div><div class="xl" style="left:177.4px">12:00</div><div class="xl" style="left:262.3px">22:00</div><div class="xl" style="left:347.3px">02-06</div><div class="xl" style="left:432.2px">19:00</div><div class="xl" style="left:517.1px">02-07</div>

<div class="cur">2864.19</div>

<div class="popup"></div>
<div class="btn sell"><svg width="84" height="25"><path d="M3,0 L81,0 Q84,0 83,2.6 L75.2,22.6 Q74.2,25 71.6,25 L3,25 Q0,25 0,22 L0,3 Q0,0 3,0 Z" fill="#ef3346"/></svg><span style="left:17px">賣出 2864.19</span></div>
<div class="btn buy"><svg width="84" height="25"><path d="M12.6,0 L81,0 Q84,0 84,3 L84,22 Q84,25 81,25 L3.2,25 Q0.2,25 1.2,22.4 L9,2.4 Q10,0 12.6,0 Z" fill="#0e977c"/></svg><span style="left:15.5px">買入 2864.45</span></div>

<div class="tabsel"></div><div class="tab" style="left:20.0px">分時</div><div class="tab" style="left:56.0px">2日</div><div class="tab" style="left:89.0px">1分</div><div class="tab" style="left:121.7px">5分</div><div class="tab" style="left:153.8px">15分</div><div class="tab sel" style="left:191.0px">30分</div><div class="tab" style="left:229.0px">1小時</div><div class="tab" style="left:269.5px">2小時</div><div class="tab" style="left:310.0px">4小時</div><div class="tab" style="left:351.7px">日K</div><div class="tab" style="left:384.3px">週K</div><div class="tab" style="left:417.0px">月K</div>
</body>
</html>
